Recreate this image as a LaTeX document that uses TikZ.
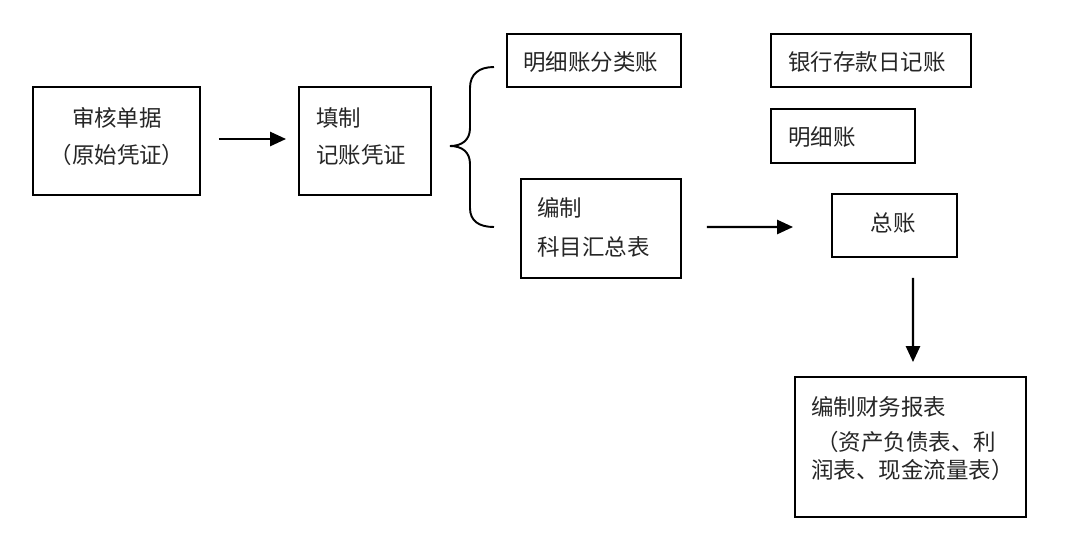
\documentclass[tikz,border=0pt]{standalone}
\usepackage{fontspec}
\setmainfont{Noto Sans CJK SC}
\usetikzlibrary{arrows.meta}
\begin{document}
\begin{tikzpicture}[x=0.02cm,y=-0.02cm,
  box/.style={draw=black,line width=1.2pt,inner sep=0pt,outer sep=0pt,fill=white},
  txt/.style={inner sep=0pt,text=black!85,font=\fontsize{12.8}{15}\selectfont},
  arr/.style={line width=1.2pt,-{Triangle[length=9pt,width=8pt]}}]
\useasboundingbox[fill=white] (0,0) rectangle (1080,542);
% boxes
\node[box,minimum width=3.34cm,minimum height=2.16cm] (b1) at (116.5,141) {};
\node[box,minimum width=2.64cm,minimum height=2.16cm] (b2) at (365,141) {};
\node[box,minimum width=3.48cm,minimum height=1.06cm] (b3) at (594,60.5) {};
\node[box,minimum width=4.00cm,minimum height=1.06cm] (b4) at (871,60.5) {};
\node[box,minimum width=2.88cm,minimum height=1.08cm] (b5) at (843,136) {};
\node[box,minimum width=3.20cm,minimum height=1.98cm] (b6) at (601,228.5) {};
\node[box,minimum width=2.50cm,minimum height=1.26cm] (b7) at (894.5,225.5) {};
\node[box,minimum width=4.62cm,minimum height=2.80cm] (b8) at (910.5,447) {};
% texts
\node[txt] (t1a) at (117,118) {审核单据};
\node[txt] (t1b) at (117,155) {（原始凭证）};
\node[txt,anchor=west] (t2a) at (316,118) {填制};
\node[txt,anchor=west] (t2b) at (316,155) {记账凭证};
\node[txt,anchor=west] (t3) at (523,62) {明细账分类账};
\node[txt,anchor=west] (t4) at (788,62) {银行存款日记账};
\node[txt,anchor=west] (t5) at (788,137) {明细账};
\node[txt,anchor=west] (t6a) at (537,208) {编制};
\node[txt,anchor=west] (t6b) at (537,247) {科目汇总表};
\node[txt] (t7) at (893,223) {总账};
\node[txt,anchor=west] (t8a) at (811,407) {编制财务报表};
\node[txt,anchor=west] (t8b) at (816,442) {（资产负债表、利};
\node[txt,anchor=west] (t8c) at (811,470) {润表、现金流量表）};
% arrows
\draw[arr] ([xshift=0.38cm,yshift=0.04cm]b1.east) -- ([xshift=-0.26cm,yshift=0.04cm]b2.west);
\draw[arr] ([xshift=0.52cm,yshift=0.03cm]b6.east) -- ([xshift=-0.78cm,yshift=-0.03cm]b7.west);
\draw[arr] ([xshift=0.37cm,yshift=-0.42cm]b7.south) -- ([xshift=0.05cm,yshift=0.3cm]b8.north);
% brace
\draw[line width=1.1pt] (494,67) .. controls (479,67) and (470,74) .. (470,88)
  -- (470,128) .. controls (470,140) and (462,146) .. (450,146)
  .. controls (462,146) and (470,152) .. (470,164)
  -- (470,208) .. controls (470,221) and (479,227) .. (494,227);
\end{tikzpicture}
\end{document}
